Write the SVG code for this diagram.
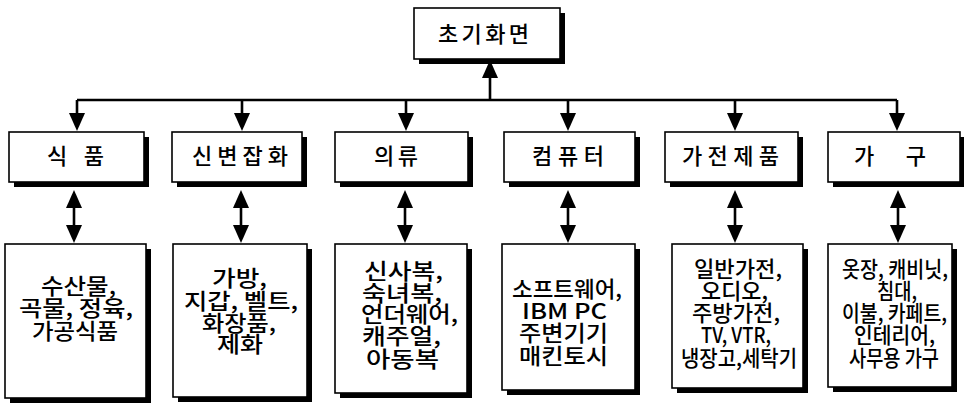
<svg xmlns="http://www.w3.org/2000/svg" width="964" height="405" viewBox="0 0 964 405">
<style>
.box{fill:#fff;stroke:#000;stroke-width:1.6}
.sh{fill:#000}
.t{font-family:"Noto Sans CJK KR","Noto Sans",sans-serif;font-size:22px;font-weight:500;fill:#000}
.c{fill:none;stroke:#000;stroke-width:2.6}
</style>
<defs>
<marker id="ah" viewBox="0 0 18 16" refX="14" refY="8" markerWidth="18" markerHeight="16" markerUnits="userSpaceOnUse" orient="auto-start-reverse">
<path d="M0,0 L18,8 L0,16 z" fill="#000"/>
</marker>
</defs>
<rect width="964" height="405" fill="#fff"/>
<g id="connectors">
<path class="c" d="M77,100 L897,100"/>
<path class="c" d="M490,100 L490,64" marker-end="url(#ah)"/>
<path class="c" d="M77,100 L77,127" marker-end="url(#ah)"/>
<path class="c" d="M242,100 L242,127" marker-end="url(#ah)"/>
<path class="c" d="M406,100 L406,127" marker-end="url(#ah)"/>
<path class="c" d="M568,100 L568,127" marker-end="url(#ah)"/>
<path class="c" d="M735,100 L735,127" marker-end="url(#ah)"/>
<path class="c" d="M897,100 L897,127" marker-end="url(#ah)"/>
<path class="c" d="M74,194 L74,239" marker-start="url(#ah)" marker-end="url(#ah)"/>
<path class="c" d="M241,194 L241,239" marker-start="url(#ah)" marker-end="url(#ah)"/>
<path class="c" d="M405,194 L405,239" marker-start="url(#ah)" marker-end="url(#ah)"/>
<path class="c" d="M568,194 L568,239" marker-start="url(#ah)" marker-end="url(#ah)"/>
<path class="c" d="M735,194 L735,239" marker-start="url(#ah)" marker-end="url(#ah)"/>
<path class="c" d="M898,194 L898,239" marker-start="url(#ah)" marker-end="url(#ah)"/>
</g>
<g id="root">
<rect class="sh" x="419" y="13" width="146" height="51"/>
<rect class="box" x="414" y="8" width="146" height="51"/>
<text class="t" x="438" y="42" textLength="91">초기화면</text>
</g>
<g id="food">
<rect class="sh" x="14" y="137" width="135" height="50"/>
<rect class="box" x="9" y="132" width="135" height="50"/>
<text class="t" x="47" y="164" textLength="57">식 품</text>
</g>
<g id="misc">
<rect class="sh" x="177" y="137" width="130" height="50"/>
<rect class="box" x="172" y="132" width="130" height="50"/>
<text class="t" x="192" y="164" textLength="96">신변잡화</text>
</g>
<g id="clothing">
<rect class="sh" x="340" y="137" width="133" height="50"/>
<rect class="box" x="335" y="132" width="133" height="50"/>
<text class="t" x="374" y="164" textLength="44">의류</text>
</g>
<g id="computer">
<rect class="sh" x="509" y="137" width="131" height="50"/>
<rect class="box" x="504" y="132" width="131" height="50"/>
<text class="t" x="532" y="164" textLength="72">컴퓨터</text>
</g>
<g id="appliance">
<rect class="sh" x="670" y="137" width="133" height="50"/>
<rect class="box" x="665" y="132" width="133" height="50"/>
<text class="t" x="682" y="164" textLength="97">가전제품</text>
</g>
<g id="furniture">
<rect class="sh" x="833" y="137" width="132" height="50"/>
<rect class="box" x="828" y="132" width="132" height="50"/>
<text class="t" x="854" y="164" textLength="72">가 구</text>
</g>
<g id="food-items">
<rect class="sh" x="10" y="249" width="141" height="154"/>
<rect class="box" x="5" y="244" width="141" height="154"/>
<text class="t" x="41" y="294" textLength="75" lengthAdjust="spacingAndGlyphs">수산물,</text>
<text class="t" x="19" y="316" textLength="114" lengthAdjust="spacingAndGlyphs">곡물, 정육,</text>
<text class="t" x="32" y="339" textLength="86" lengthAdjust="spacingAndGlyphs">가공식품</text>
</g>
<g id="misc-items">
<rect class="sh" x="178" y="249" width="134" height="153"/>
<rect class="box" x="173" y="244" width="134" height="153"/>
<text class="t" x="212" y="286" textLength="55" lengthAdjust="spacingAndGlyphs">가방,</text>
<text class="t" x="184" y="309" textLength="114" lengthAdjust="spacingAndGlyphs">지갑, 벨트,</text>
<text class="t" x="202" y="331" textLength="74" lengthAdjust="spacingAndGlyphs">화장품,</text>
<text class="t" x="217" y="352" textLength="46" lengthAdjust="spacingAndGlyphs">제화</text>
</g>
<g id="clothing-items">
<rect class="sh" x="340" y="249" width="132" height="149"/>
<rect class="box" x="335" y="244" width="132" height="149"/>
<text class="t" x="364" y="279" textLength="79" lengthAdjust="spacingAndGlyphs">신사복,</text>
<text class="t" x="362" y="301" textLength="80" lengthAdjust="spacingAndGlyphs">숙녀복,</text>
<text class="t" x="361" y="322" textLength="97" lengthAdjust="spacingAndGlyphs">언더웨어,</text>
<text class="t" x="362" y="344" textLength="79" lengthAdjust="spacingAndGlyphs">캐주얼,</text>
<text class="t" x="366" y="367" textLength="73" lengthAdjust="spacingAndGlyphs">아동복</text>
</g>
<g id="computer-items">
<rect class="sh" x="507" y="249" width="133" height="146"/>
<rect class="box" x="502" y="244" width="133" height="146"/>
<text class="t" x="512" y="297" textLength="110" lengthAdjust="spacingAndGlyphs">소프트웨어,</text>
<text class="t" x="522" y="319" textLength="85" lengthAdjust="spacingAndGlyphs">IBM PC</text>
<text class="t" x="519" y="341" textLength="89" lengthAdjust="spacingAndGlyphs">주변기기</text>
<text class="t" x="519" y="364" textLength="89" lengthAdjust="spacingAndGlyphs">매킨토시</text>
</g>
<g id="appliance-items">
<rect class="sh" x="677" y="249" width="131" height="144"/>
<rect class="box" x="672" y="244" width="131" height="144"/>
<text class="t" x="694" y="277" textLength="88" lengthAdjust="spacingAndGlyphs">일반가전,</text>
<text class="t" x="701" y="299" textLength="67" lengthAdjust="spacingAndGlyphs">오디오,</text>
<text class="t" x="692" y="321" textLength="88" lengthAdjust="spacingAndGlyphs">주방가전,</text>
<text class="t" x="701" y="343" textLength="70" lengthAdjust="spacingAndGlyphs">TV, VTR,</text>
<text class="t" x="681" y="366" textLength="116" lengthAdjust="spacingAndGlyphs">냉장고,세탁기</text>
</g>
<g id="furniture-items">
<rect class="sh" x="833" y="249" width="124" height="143"/>
<rect class="box" x="828" y="244" width="124" height="143"/>
<text class="t" x="842" y="277" textLength="106" lengthAdjust="spacingAndGlyphs">옷장, 캐비닛,</text>
<text class="t" x="877" y="299" textLength="40" lengthAdjust="spacingAndGlyphs">침대,</text>
<text class="t" x="842" y="321" textLength="105" lengthAdjust="spacingAndGlyphs">이불, 카페트,</text>
<text class="t" x="854" y="343" textLength="81" lengthAdjust="spacingAndGlyphs">인테리어,</text>
<text class="t" x="849" y="366" textLength="90" lengthAdjust="spacingAndGlyphs">사무용 가구</text>
</g>
</svg>
